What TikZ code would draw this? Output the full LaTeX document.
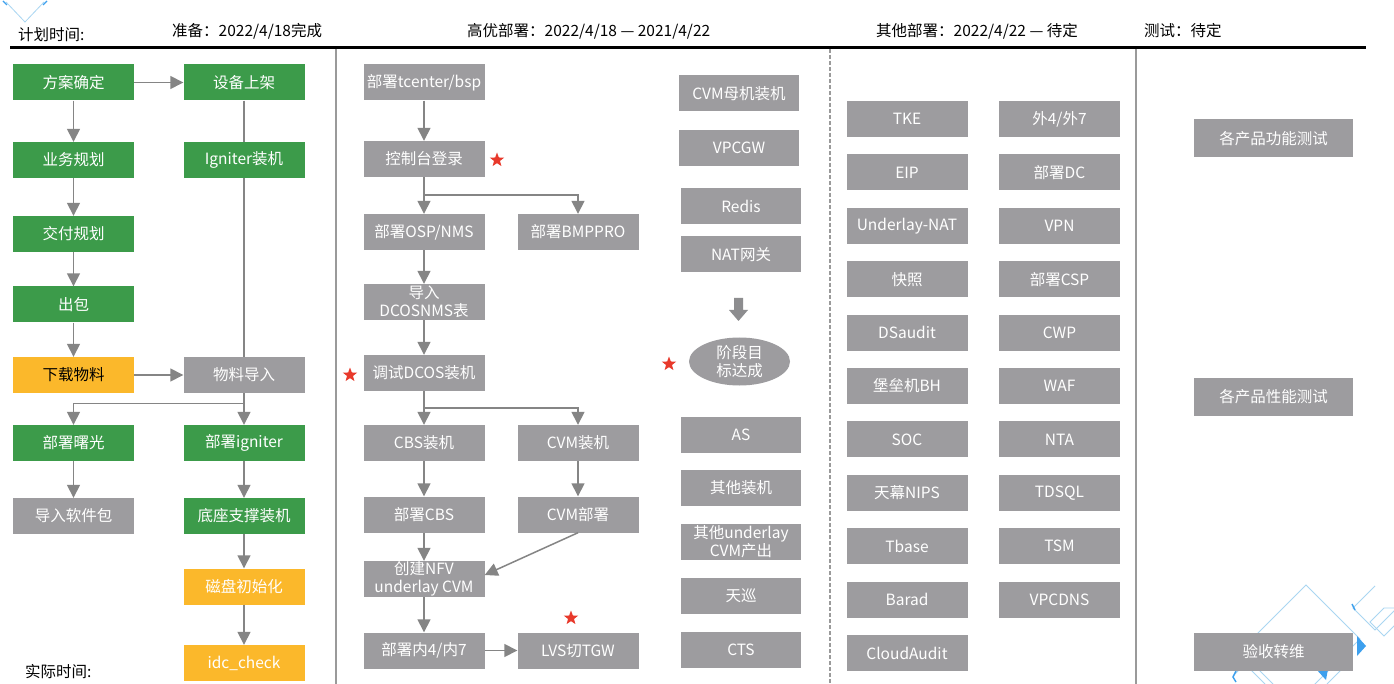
\documentclass[tikz,border=0pt]{standalone}
\usepackage{fontspec}
\setmainfont{Noto Sans CJK SC}
\usetikzlibrary{arrows.meta,shapes.geometric,calc}
\definecolor{grn}{HTML}{3C9B4A}
\definecolor{ylw}{HTML}{FBB82B}
\definecolor{gbox}{HTML}{9D9C9F}
\definecolor{lnc}{HTML}{858585}
\definecolor{sepc}{HTML}{9A9A9A}
\definecolor{lblue}{HTML}{A9D6F2}
\definecolor{dblue}{HTML}{3DA0EE}
\definecolor{stc}{HTML}{E8392B}
\begin{document}
\begin{tikzpicture}[x=1pt,y=-1pt,
  box/.style={minimum width=121pt, minimum height=36pt, inner sep=0pt, text=white,
    font=\fontsize{15.5}{18}\selectfont, align=center},
  gb/.style={box, fill=gbox},
  gn/.style={box, fill=grn},
  yl/.style={box, fill=ylw},
  tb/.style={box, fill=gbox, minimum width=159pt, minimum height=38pt},
  ell/.style={ellipse, fill=gbox, minimum width=101pt, minimum height=48pt, inner sep=0pt,
    text=white, font=\fontsize{15.5}{18}\selectfont, align=center},
  ln/.style={draw=lnc, line width=1.5pt},
  arr/.style={ln, -{Triangle[length=13pt,width=13pt]}},
  starn/.style={star, star points=5, star point ratio=2.4, fill=stc, draw=none,
    minimum size=15pt, inner sep=0pt},
  hdr/.style={anchor=west, inner sep=0pt, font=\fontsize{15.5}{17}\selectfont, text=black},
  deco/.style={draw=lblue, line width=0.8pt},
]
\useasboundingbox (0,0) rectangle (1394,684);
\fill[white] (0,0) rectangle (1394,684);

% decorations
\draw[deco] (6,2) -- (25,22) -- (44,2);
\draw[dblue, line width=1.4pt] (3,1) -- (7,5);
\draw[dblue, line width=1.4pt] (43,5) -- (47,1);
\draw[deco] (1252,639) -- (1306,585) -- (1360,639) -- (1306,693);
\draw[deco] (1257,668) -- (1273,684);
\draw[deco] (1343,668) -- (1327,684);
\fill[dblue] (1357,636) -- (1366,646) -- (1357,656) -- cycle;
\fill[dblue] (1316,669) -- (1328,669) -- (1326,680) -- cycle;
\draw[deco] (1375,586) -- (1353,608) -- (1375,630) -- (1397,608);
\draw[deco] (1398,608) -- (1384,608) -- (1370,622) -- (1384,636) -- (1398,622);
\draw[dblue, line width=1.4pt] (1352,604) -- (1355,610);
\draw[deco] (1233,676) -- (1245,664) -- (1265,684);
\draw[dblue, line width=1.4pt] (1236,671) -- (1233,677) -- (1236,682);

% header
\node[hdr] (h1) at (18,35) {计划时间:};
\node[hdr] (h2) at (172,31) {准备：2022/4/18完成};
\node[hdr] (h3) at (467,31) {高优部署：2022/4/18 — 2021/4/22};
\node[hdr] (h4) at (876,31) {其他部署：2022/4/22 — 待定};
\node[hdr] (h5) at (1144,31) {测试：待定};
\node[hdr] (h6) at (25,672) {实际时间:};
\draw[black, line width=3pt] (10,47.5) -- (1366,47.5);

% separators
\draw[sepc, line width=1.8pt] (336,49) -- (336,684);
\draw[sepc, line width=1.2pt, dash pattern=on 4pt off 2pt] (830,49) -- (830,684);
\draw[sepc, line width=1.8pt] (1136,49) -- (1136,684);

% left area
\node[gn] (fa) at (73.5,82.5) {方案确定};
\node[gn] (sb) at (244,82.5) {设备上架};
\node[gn] (yw) at (73.5,160) {业务规划};
\node[gn] (ig) at (244,160) {Igniter装机};
\node[gn] (jf) at (73.5,234) {交付规划};
\node[gn] (cb) at (73.5,304.5) {出包};
\node[yl, text=black] (xz) at (73.5,375) {下载物料};
\node[gb] (wl) at (244,375) {物料导入};
\node[gn] (sg) at (73.5,443) {部署曙光};
\node[gn] (bi) at (244,443) {部署igniter};
\node[gb] (dr) at (73.5,516) {导入软件包};
\node[gn] (dz) at (244,516) {底座支撑装机};
\node[yl] (cp) at (244,586.5) {磁盘初始化};
\node[yl] (idc) at (244,663) {idc\_check};

\draw[arr] (fa) -- (sb);
\draw[arr] (fa) -- (yw);
\draw[arr] (yw) -- (jf);
\draw[arr] (jf) -- (cb);
\draw[arr] (cb) -- (xz);
\draw[ln] (sb) -- (ig);
\draw[ln] (ig) -- (wl);
\draw[arr] (xz) -- (wl);
\coordinate (jL) at (244,403.5);
\draw[ln] (wl) -- (jL);
\draw[arr] (jL) -| (sg);
\draw[arr] (jL) -- (bi);
\draw[arr] (sg) -- (dr);
\draw[arr] (bi) -- (dz);
\draw[arr] (dz) -- (cp);
\draw[arr] (cp) -- (idc);

% middle area
\node[gb] (tc) at (424,82.5) {部署tcenter/bsp};
\node[gb] (kz) at (424,159) {控制台登录};
\node[gb] (osp) at (424,232) {部署OSP/NMS};
\node[gb] (bmp) at (578,232) {部署BMPPRO};
\node[gb] (dco) at (424,302) {导入\\DCOSNMS表};
\node[gb] (tsd) at (424,373) {调试DCOS装机};
\node[gb] (cbs) at (424,443) {CBS装机};
\node[gb] (cvm) at (578,443) {CVM装机};
\node[gb] (bcbs) at (424,514.5) {部署CBS};
\node[gb] (cvmd) at (578,514.5) {CVM部署};
\node[gb] (nfv) at (424,579) {创建NFV\\underlay CVM};
\node[gb] (n47) at (424,650.5) {部署内4/内7};
\node[gb] (lvs) at (578,650.5) {LVS切TGW};
\node[starn] (s1) at (497,160) {};
\node[starn] (s2) at (350,375) {};
\node[starn] (s3) at (571,618) {};

\draw[arr] (tc) -- (kz);
\coordinate (jM1) at (424,195);
\draw[ln] (kz) -- (jM1);
\draw[arr] (jM1) -- (osp);
\draw[arr] (jM1) -| (bmp);
\draw[arr] (osp) -- (dco);
\draw[arr] (dco) -- (tsd);
\coordinate (jM2) at (424,408);
\draw[ln] (tsd) -- (jM2);
\draw[arr] (jM2) -- (cbs);
\draw[arr] (jM2) -| (cvm);
\draw[arr] (cbs) -- (bcbs);
\draw[arr] (cvm) -- (cvmd);
\draw[arr] (bcbs) -- (nfv);
\draw[arr] (cvmd.south) -- ([yshift=4pt]nfv.east);
\draw[arr] (nfv) -- (n47);
\draw[arr] (n47) -- (lvs);

% third column
\node[gb, minimum width=120pt] (mj) at (739,93.5) {CVM母机装机};
\node[gb, minimum width=120pt] (vpg) at (739,148) {VPCGW};
\node[gb, minimum width=120pt] (rds) at (741,206) {Redis};
\node[gb, minimum width=120pt] (nat) at (741,254.5) {NAT网关};
\fill[gbox!90!black] (734,298) -- (743,298) -- (743,310) -- (748,310) -- (738.5,321)
  -- (729,310) -- (734,310) -- cycle;
\node[ell] (goal) at (739.5,361.5) {阶段目\\标达成};
\node[starn] (s4) at (669,364) {};
\node[gb, minimum width=120pt] (as) at (741,434.5) {AS};
\node[gb, minimum width=120pt] (qt) at (741,488) {其他装机};
\node[gb, minimum width=120pt] (qu) at (741,542) {其他underlay\\CVM产出};
\node[gb, minimum width=120pt] (tx) at (741,596) {天巡};
\node[gb, minimum width=120pt] (cts) at (741,650) {CTS};

% fourth area
\node[gb] (a1) at (907,119) {TKE};
\node[gb] (a2) at (907,172.4) {EIP};
\node[gb] (a3) at (907,225.8) {Underlay-NAT};
\node[gb] (a4) at (907,279.2) {快照};
\node[gb] (a5) at (907,332.6) {DSaudit};
\node[gb] (a6) at (907,386) {堡垒机BH};
\node[gb] (a7) at (907,439.4) {SOC};
\node[gb] (a8) at (907,492.8) {天幕NIPS};
\node[gb] (a9) at (907,546.2) {Tbase};
\node[gb] (a10) at (907,599.6) {Barad};
\node[gb] (a11) at (907,653) {CloudAudit};
\node[gb] (b1) at (1059.5,119) {外4/外7};
\node[gb] (b2) at (1059.5,172.4) {部署DC};
\node[gb] (b3) at (1059.5,225.8) {VPN};
\node[gb] (b4) at (1059.5,279.2) {部署CSP};
\node[gb] (b5) at (1059.5,332.6) {CWP};
\node[gb] (b6) at (1059.5,386) {WAF};
\node[gb] (b7) at (1059.5,439.4) {NTA};
\node[gb] (b8) at (1059.5,492.8) {TDSQL};
\node[gb] (b9) at (1059.5,546.2) {TSM};
\node[gb] (b10) at (1059.5,599.6) {VPCDNS};

% test area
\node[tb] (t1) at (1273.5,138.5) {各产品功能测试};
\node[tb] (t2) at (1273.5,396.5) {各产品性能测试};
\node[tb] (t3) at (1273.5,652) {验收转维};
\end{tikzpicture}
\end{document}
